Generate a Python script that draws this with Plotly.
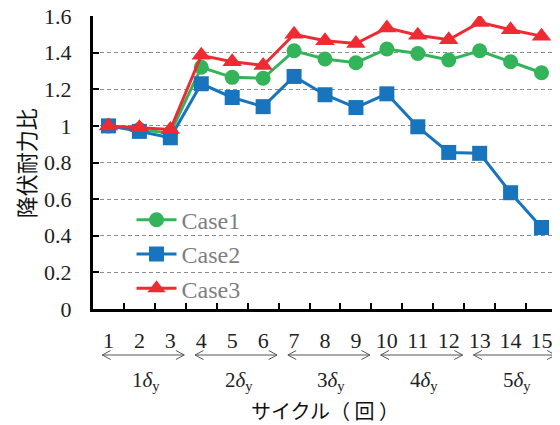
import plotly.graph_objects as go

cycles = [str(i) for i in range(1, 16)]
case1 = [1.00, 0.98, 0.96, 1.32, 1.265, 1.26, 1.41, 1.365, 1.345, 1.42, 1.395, 1.36, 1.41, 1.35, 1.29]
case2 = [1.00, 0.97, 0.935, 1.23, 1.155, 1.105, 1.27, 1.17, 1.10, 1.175, 0.995, 0.855, 0.85, 0.635, 0.445]
case3 = [1.00, 0.99, 0.98, 1.385, 1.35, 1.33, 1.50, 1.465, 1.45, 1.535, 1.495, 1.47, 1.565, 1.525, 1.49]

group_labels = ["1<i>δ</i><sub>y</sub>", "2<i>δ</i><sub>y</sub>", "3<i>δ</i><sub>y</sub>",
                "4<i>δ</i><sub>y</sub>", "5<i>δ</i><sub>y</sub>"]
group_first = [1, 4, 7, 10, 13]
group_last = [3, 6, 9, 12, 15]

series = [
    ("Case1", case1, "#34b45a", "circle", 15),
    ("Case2", case2, "#1874bc", "square", 15),
    ("Case3", case3, "#ee2a33", "triangle-up", 17),
]

SERIF = "Times New Roman, Liberation Serif, serif"
CJK = "Noto Sans CJK JP"

fig = go.Figure()
for name, vals, col, sym, sz in series:
    fig.add_trace(go.Scatter(
        x=cycles, y=vals, name=name, mode="lines+markers",
        line=dict(color=col, width=3),
        marker=dict(symbol=sym, size=sz, color=col),
    ))

shapes = []
annotations = []
ya = -0.157
dy = 0.0154
dx = 0.27
for lab, g0, g1 in zip(group_labels, group_first, group_last):
    xs = g0 - 1 - 0.2
    xe = g1 - 1 + 0.45
    path = (f"M {xs+dx},{ya+dy} L {xs},{ya} L {xs+dx},{ya-dy} "
            f"M {xs},{ya} L {xe},{ya} "
            f"M {xe-dx},{ya+dy} L {xe},{ya} L {xe-dx},{ya-dy}")
    shapes.append(dict(type="path", xref="x", yref="paper", path=path,
                       line=dict(color="#555555", width=1)))
    annotations.append(dict(x=(xs + xe) / 2 + 0.08, y=-0.245, xref="x", yref="paper",
                            text=lab, showarrow=False, xanchor="center", yanchor="middle",
                            font=dict(family=SERIF, size=21, color="#222222")))

annotations.append(dict(x=0.5, y=-0.348, xref="paper", yref="paper",
                        text="サイクル（ 回 ）", showarrow=False,
                        xanchor="center", yanchor="middle",
                        font=dict(family=CJK, size=20, color="#111111")))
annotations.append(dict(x=-0.146, y=0.498, xref="paper", yref="paper",
                        text="降伏耐力比", showarrow=False, textangle=-90,
                        xanchor="center", yanchor="middle",
                        font=dict(family=CJK, size=22, color="#111111")))

fig.update_layout(
    width=552, height=417,
    margin=dict(l=85, r=3, t=8, b=116, autoexpand=False),
    paper_bgcolor="white", plot_bgcolor="white",
    showlegend=True,
    legend=dict(x=0.083, y=0.38, xanchor="left", yanchor="top",
                bgcolor="rgba(0,0,0,0)",
                font=dict(family=SERIF, size=24, color="#7f7f7f"),
                tracegroupgap=0, itemwidth=40),
    shapes=shapes,
    annotations=annotations,
)
fig.update_xaxes(
    type="category", tickson="boundaries", ticks="inside", ticklen=6, tickwidth=2,
    tickcolor="black", showline=True, linecolor="black", linewidth=3,
    showgrid=False, zeroline=False, range=[-0.5, 14.5], tickangle=0,
    tickfont=dict(family=SERIF, size=22, color="#222222"),
    ticklabelstandoff=10, automargin=False, ticklabeloverflow="allow",
)
fig.update_yaxes(
    range=[0, 1.6], tickvals=[0, 0.2, 0.4, 0.6, 0.8, 1.0, 1.2, 1.4, 1.6],
    ticktext=["0", "0.2", "0.4", "0.6", "0.8", "1", "1.2", "1.4", "1.6"],
    ticks="inside", ticklen=6, tickwidth=2, tickcolor="black",
    showline=True, linecolor="black", linewidth=3,
    showgrid=True, gridcolor="#8c8c8c", gridwidth=1.2, griddash="4px,3px",
    zeroline=False,
    tickfont=dict(family=SERIF, size=22, color="#222222"),
    ticklabelstandoff=14, automargin=False, ticklabeloverflow="allow",
)

fig.write_html("out.html")
